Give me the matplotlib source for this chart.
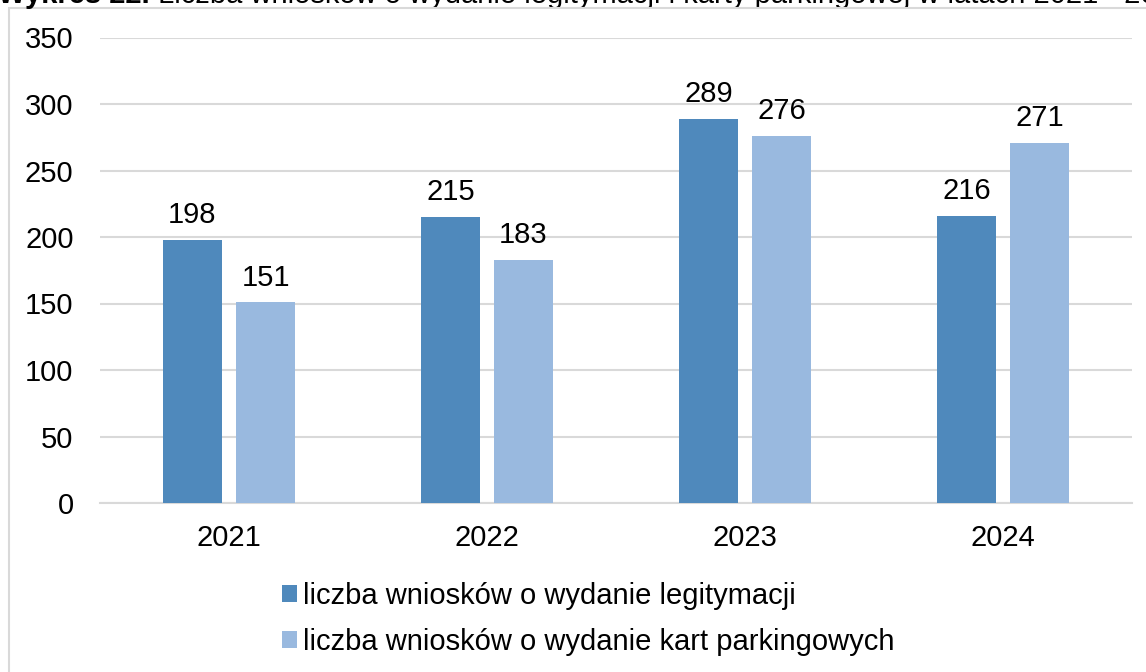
import matplotlib
matplotlib.use("Agg")
import matplotlib.pyplot as plt
import matplotlib.patches as mpatches
import numpy as np

plt.rcParams["font.family"] = ["Liberation Sans", "DejaVu Sans"]

# ── data ─────────────────────────────────────────────────────────────────────
years = ["2021", "2022", "2023", "2024"]
legitymacje = [198, 215, 289, 216]
karty = [151, 183, 276, 271]
series_names = [
    "liczba wniosków o wydanie legitymacji",
    "liczba wniosków o wydanie kart parkingowych",
]
caption_bold = "Wykres 22."
caption = " Liczba wniosków o wydanie legitymacji i karty parkingowej w latach 2021 - 2024"
colors = ["#4F89BC", "#99B9DF"]
grid_color = "#D9D9D9"

W, H = 1146, 672
fig = plt.figure(figsize=(W / 100, H / 100), dpi=100)
ax = fig.add_axes([100 / W, 1 - 503 / H, 1032 / W, 465.5 / H])

x = np.arange(len(years))
bw = 0.225
off = 0.1415
b1 = ax.bar(x - off, legitymacje, bw, color=colors[0], label=series_names[0], zorder=3)
b2 = ax.bar(x + off, karty, bw, color=colors[1], label=series_names[1], zorder=3)

for bars in (b1, b2):
    for r in bars:
        ax.annotate(f"{r.get_height():.0f}", (r.get_x() + r.get_width() / 2, r.get_height()),
                    xytext=(0, 12), textcoords="offset points",
                    ha="center", va="baseline", fontsize=21)

ax.set_xlim(-0.5, len(years) - 0.5)
ax.set_ylim(0, 350)
ax.set_yticks(range(0, 351, 50))
ax.set_xticks(x)
ax.set_xticklabels(years)
ax.tick_params(axis="both", length=0, labelsize=21)
ax.tick_params(axis="y", pad=19)
ax.tick_params(axis="x", pad=15)
ax.grid(axis="y", color=grid_color, linewidth=1.5, zorder=0)
for s in ("top", "right", "left"):
    ax.spines[s].set_visible(False)
ax.spines["bottom"].set_color(grid_color)
ax.spines["bottom"].set_linewidth(1.5)

# legend below the plot
fig.legend(handles=[b1, b2], loc="upper left", bbox_to_anchor=(270 / W, 1 - 570 / H),
           frameon=False, fontsize=21, handlelength=0.52, handleheight=0.52,
           handletextpad=0.2, labelspacing=0.62, borderaxespad=0)

# chart frame (only left and top edges are visible in the crop)
fig.add_artist(mpatches.Rectangle((9 / W, -0.2), 2, 1.2 - 8 / H, transform=fig.transFigure,
                                  fill=False, edgecolor=grid_color, linewidth=1.5))

# caption above the chart, cut off by the top edge as in the source
t1 = fig.text(-2 / W, 1 - 9 / H, caption_bold, fontsize=21, fontweight="bold",
              ha="left", va="bottom")
ax.annotate(caption, xy=(1, 0), xycoords=t1, ha="left", va="bottom", fontsize=21,
            annotation_clip=False)

fig.savefig("out.png", dpi=100)
